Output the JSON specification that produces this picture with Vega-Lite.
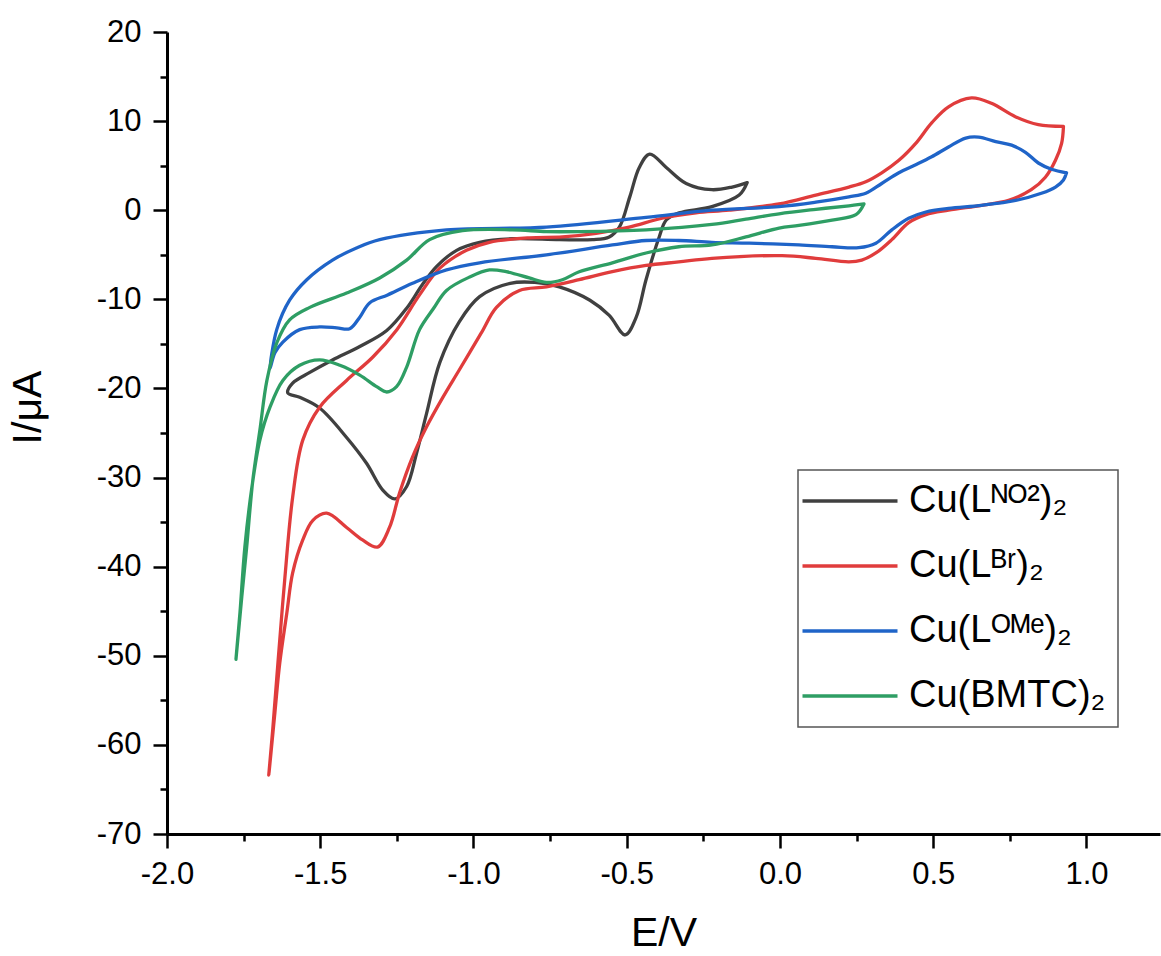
{
  "$schema": "https://vega.github.io/schema/vega-lite/v6.json",
  "width": 993,
  "height": 802,
  "autosize": {"type": "none"},
  "padding": {"left": 167, "top": 32, "right": 1, "bottom": 122},
  "background": "white",
  "config": {
    "view": {"stroke": null},
    "font": "Liberation Sans",
    "axis": {"labelFont": "Liberation Sans", "titleFont": "Liberation Sans", "titleFontWeight": "normal", "labelColor": "black", "titleColor": "black", "domainColor": "black", "tickColor": "black", "domainWidth": 3, "tickWidth": 2.5, "grid": false, "labelOverlap": false, "labelFlush": false}
  },
  "datasets": {
    "cv": [
      {"series": "NO2", "k": 1, "E": -0.107, "I": 3.1},
      {"series": "NO2", "k": 2, "E": -0.133, "I": 1.7},
      {"series": "NO2", "k": 3, "E": -0.222, "I": 0.4},
      {"series": "NO2", "k": 4, "E": -0.329, "I": -0.3},
      {"series": "NO2", "k": 5, "E": -0.371, "I": -1.1},
      {"series": "NO2", "k": 6, "E": -0.394, "I": -3.0},
      {"series": "NO2", "k": 7, "E": -0.437, "I": -7.8},
      {"series": "NO2", "k": 8, "E": -0.469, "I": -12.0},
      {"series": "NO2", "k": 9, "E": -0.505, "I": -14.0},
      {"series": "NO2", "k": 10, "E": -0.557, "I": -11.8},
      {"series": "NO2", "k": 11, "E": -0.62, "I": -10.1},
      {"series": "NO2", "k": 12, "E": -0.72, "I": -8.6},
      {"series": "NO2", "k": 13, "E": -0.8, "I": -8.1},
      {"series": "NO2", "k": 14, "E": -0.88, "I": -8.2},
      {"series": "NO2", "k": 15, "E": -0.98, "I": -9.7},
      {"series": "NO2", "k": 16, "E": -1.046, "I": -12.5},
      {"series": "NO2", "k": 17, "E": -1.11, "I": -17.1},
      {"series": "NO2", "k": 18, "E": -1.153, "I": -22.8},
      {"series": "NO2", "k": 19, "E": -1.186, "I": -27.3},
      {"series": "NO2", "k": 20, "E": -1.218, "I": -31.0},
      {"series": "NO2", "k": 21, "E": -1.257, "I": -32.4},
      {"series": "NO2", "k": 22, "E": -1.296, "I": -31.4},
      {"series": "NO2", "k": 23, "E": -1.349, "I": -28.4},
      {"series": "NO2", "k": 24, "E": -1.414, "I": -25.5},
      {"series": "NO2", "k": 25, "E": -1.502, "I": -22.2},
      {"series": "NO2", "k": 26, "E": -1.567, "I": -21.0},
      {"series": "NO2", "k": 27, "E": -1.606, "I": -20.5},
      {"series": "NO2", "k": 28, "E": -1.59, "I": -19.4},
      {"series": "NO2", "k": 29, "E": -1.534, "I": -18.2},
      {"series": "NO2", "k": 30, "E": -1.46, "I": -16.8},
      {"series": "NO2", "k": 31, "E": -1.371, "I": -15.3},
      {"series": "NO2", "k": 32, "E": -1.283, "I": -13.5},
      {"series": "NO2", "k": 33, "E": -1.218, "I": -11.0},
      {"series": "NO2", "k": 34, "E": -1.166, "I": -8.3},
      {"series": "NO2", "k": 35, "E": -1.12, "I": -6.3},
      {"series": "NO2", "k": 36, "E": -1.055, "I": -4.5},
      {"series": "NO2", "k": 37, "E": -0.98, "I": -3.6},
      {"series": "NO2", "k": 38, "E": -0.873, "I": -3.2},
      {"series": "NO2", "k": 39, "E": -0.72, "I": -3.3},
      {"series": "NO2", "k": 40, "E": -0.612, "I": -3.3},
      {"series": "NO2", "k": 41, "E": -0.557, "I": -3.0},
      {"series": "NO2", "k": 42, "E": -0.524, "I": -1.9},
      {"series": "NO2", "k": 43, "E": -0.49, "I": 1.5},
      {"series": "NO2", "k": 44, "E": -0.459, "I": 4.8},
      {"series": "NO2", "k": 45, "E": -0.425, "I": 6.3},
      {"series": "NO2", "k": 46, "E": -0.371, "I": 4.8},
      {"series": "NO2", "k": 47, "E": -0.306, "I": 3.0},
      {"series": "NO2", "k": 48, "E": -0.222, "I": 2.3},
      {"series": "NO2", "k": 49, "E": -0.156, "I": 2.6},
      {"series": "NO2", "k": 50, "E": -0.107, "I": 3.1},

      {"series": "Br", "k": 1, "E": 0.925, "I": 9.4},
      {"series": "Br", "k": 2, "E": 0.919, "I": 7.5},
      {"series": "Br", "k": 3, "E": 0.899, "I": 5.6},
      {"series": "Br", "k": 4, "E": 0.866, "I": 3.7},
      {"series": "Br", "k": 5, "E": 0.82, "I": 2.3},
      {"series": "Br", "k": 6, "E": 0.746, "I": 1.1},
      {"series": "Br", "k": 7, "E": 0.658, "I": 0.55},
      {"series": "Br", "k": 8, "E": 0.55, "I": 0.0},
      {"series": "Br", "k": 9, "E": 0.476, "I": -0.5},
      {"series": "Br", "k": 10, "E": 0.42, "I": -1.4},
      {"series": "Br", "k": 11, "E": 0.365, "I": -3.3},
      {"series": "Br", "k": 12, "E": 0.313, "I": -4.8},
      {"series": "Br", "k": 13, "E": 0.267, "I": -5.6},
      {"series": "Br", "k": 14, "E": 0.225, "I": -5.8},
      {"series": "Br", "k": 15, "E": 0.117, "I": -5.4},
      {"series": "Br", "k": 16, "E": 0.007, "I": -5.1},
      {"series": "Br", "k": 17, "E": -0.222, "I": -5.4},
      {"series": "Br", "k": 18, "E": -0.33, "I": -5.8},
      {"series": "Br", "k": 19, "E": -0.437, "I": -6.2},
      {"series": "Br", "k": 20, "E": -0.547, "I": -6.9},
      {"series": "Br", "k": 21, "E": -0.655, "I": -7.8},
      {"series": "Br", "k": 22, "E": -0.762, "I": -8.6},
      {"series": "Br", "k": 23, "E": -0.85, "I": -9.0},
      {"series": "Br", "k": 24, "E": -0.925, "I": -10.9},
      {"series": "Br", "k": 25, "E": -0.975, "I": -13.8},
      {"series": "Br", "k": 26, "E": -1.046, "I": -17.9},
      {"series": "Br", "k": 27, "E": -1.1, "I": -21.0},
      {"series": "Br", "k": 28, "E": -1.153, "I": -24.3},
      {"series": "Br", "k": 29, "E": -1.199, "I": -27.7},
      {"series": "Br", "k": 30, "E": -1.241, "I": -31.7},
      {"series": "Br", "k": 31, "E": -1.274, "I": -35.6},
      {"series": "Br", "k": 32, "E": -1.313, "I": -37.8},
      {"series": "Br", "k": 33, "E": -1.362, "I": -37.0},
      {"series": "Br", "k": 34, "E": -1.414, "I": -35.6},
      {"series": "Br", "k": 35, "E": -1.479, "I": -34.0},
      {"series": "Br", "k": 36, "E": -1.524, "I": -34.8},
      {"series": "Br", "k": 37, "E": -1.557, "I": -37.0},
      {"series": "Br", "k": 38, "E": -1.59, "I": -40.7},
      {"series": "Br", "k": 39, "E": -1.609, "I": -45.2},
      {"series": "Br", "k": 40, "E": -1.632, "I": -50.8},
      {"series": "Br", "k": 41, "E": -1.648, "I": -56.4},
      {"series": "Br", "k": 42, "E": -1.668, "I": -63.4},
      {"series": "Br", "k": 43, "E": -1.655, "I": -58.3},
      {"series": "Br", "k": 44, "E": -1.638, "I": -50.8},
      {"series": "Br", "k": 45, "E": -1.616, "I": -41.5},
      {"series": "Br", "k": 46, "E": -1.59, "I": -32.2},
      {"series": "Br", "k": 47, "E": -1.557, "I": -25.8},
      {"series": "Br", "k": 48, "E": -1.502, "I": -22.1},
      {"series": "Br", "k": 49, "E": -1.414, "I": -19.1},
      {"series": "Br", "k": 50, "E": -1.329, "I": -16.5},
      {"series": "Br", "k": 51, "E": -1.25, "I": -13.4},
      {"series": "Br", "k": 52, "E": -1.176, "I": -9.5},
      {"series": "Br", "k": 53, "E": -1.11, "I": -6.5},
      {"series": "Br", "k": 54, "E": -1.023, "I": -4.5},
      {"series": "Br", "k": 55, "E": -0.948, "I": -3.6},
      {"series": "Br", "k": 56, "E": -0.818, "I": -3.1},
      {"series": "Br", "k": 57, "E": -0.71, "I": -3.0},
      {"series": "Br", "k": 58, "E": -0.6, "I": -2.6},
      {"series": "Br", "k": 59, "E": -0.492, "I": -1.9},
      {"series": "Br", "k": 60, "E": -0.384, "I": -0.9},
      {"series": "Br", "k": 61, "E": -0.274, "I": -0.3},
      {"series": "Br", "k": 62, "E": -0.166, "I": 0.0},
      {"series": "Br", "k": 63, "E": -0.003, "I": 0.7},
      {"series": "Br", "k": 64, "E": 0.117, "I": 1.7},
      {"series": "Br", "k": 65, "E": 0.225, "I": 2.6},
      {"series": "Br", "k": 66, "E": 0.28, "I": 3.2},
      {"series": "Br", "k": 67, "E": 0.332, "I": 4.2},
      {"series": "Br", "k": 68, "E": 0.388, "I": 5.6},
      {"series": "Br", "k": 69, "E": 0.443, "I": 7.5},
      {"series": "Br", "k": 70, "E": 0.495, "I": 9.8},
      {"series": "Br", "k": 71, "E": 0.55, "I": 11.6},
      {"series": "Br", "k": 72, "E": 0.625, "I": 12.6},
      {"series": "Br", "k": 73, "E": 0.69, "I": 12.0},
      {"series": "Br", "k": 74, "E": 0.768, "I": 10.5},
      {"series": "Br", "k": 75, "E": 0.843, "I": 9.6},
      {"series": "Br", "k": 76, "E": 0.925, "I": 9.4},

      {"series": "OMe", "k": 1, "E": 0.935, "I": 4.2},
      {"series": "OMe", "k": 2, "E": 0.925, "I": 3.4},
      {"series": "OMe", "k": 3, "E": 0.899, "I": 2.6},
      {"series": "OMe", "k": 4, "E": 0.853, "I": 1.9},
      {"series": "OMe", "k": 5, "E": 0.769, "I": 1.1},
      {"series": "OMe", "k": 6, "E": 0.658, "I": 0.55},
      {"series": "OMe", "k": 7, "E": 0.55, "I": 0.2},
      {"series": "OMe", "k": 8, "E": 0.476, "I": -0.2},
      {"series": "OMe", "k": 9, "E": 0.42, "I": -0.9},
      {"series": "OMe", "k": 10, "E": 0.365, "I": -2.2},
      {"series": "OMe", "k": 11, "E": 0.313, "I": -3.7},
      {"series": "OMe", "k": 12, "E": 0.257, "I": -4.2},
      {"series": "OMe", "k": 13, "E": 0.17, "I": -4.1},
      {"series": "OMe", "k": 14, "E": 0.062, "I": -3.9},
      {"series": "OMe", "k": 15, "E": -0.1, "I": -3.7},
      {"series": "OMe", "k": 16, "E": -0.222, "I": -3.6},
      {"series": "OMe", "k": 17, "E": -0.33, "I": -3.4},
      {"series": "OMe", "k": 18, "E": -0.437, "I": -3.4},
      {"series": "OMe", "k": 19, "E": -0.547, "I": -3.9},
      {"series": "OMe", "k": 20, "E": -0.762, "I": -5.0},
      {"series": "OMe", "k": 21, "E": -0.98, "I": -5.9},
      {"series": "OMe", "k": 22, "E": -1.088, "I": -6.7},
      {"series": "OMe", "k": 23, "E": -1.199, "I": -8.2},
      {"series": "OMe", "k": 24, "E": -1.28, "I": -9.5},
      {"series": "OMe", "k": 25, "E": -1.339, "I": -10.4},
      {"series": "OMe", "k": 26, "E": -1.371, "I": -12.0},
      {"series": "OMe", "k": 27, "E": -1.404, "I": -13.3},
      {"series": "OMe", "k": 28, "E": -1.446, "I": -13.2},
      {"series": "OMe", "k": 29, "E": -1.502, "I": -13.1},
      {"series": "OMe", "k": 30, "E": -1.567, "I": -13.4},
      {"series": "OMe", "k": 31, "E": -1.622, "I": -14.8},
      {"series": "OMe", "k": 32, "E": -1.648, "I": -16.0},
      {"series": "OMe", "k": 33, "E": -1.664, "I": -17.8},
      {"series": "OMe", "k": 34, "E": -1.642, "I": -13.4},
      {"series": "OMe", "k": 35, "E": -1.6, "I": -10.1},
      {"series": "OMe", "k": 36, "E": -1.544, "I": -7.8},
      {"series": "OMe", "k": 37, "E": -1.46, "I": -5.6},
      {"series": "OMe", "k": 38, "E": -1.38, "I": -4.2},
      {"series": "OMe", "k": 39, "E": -1.306, "I": -3.3},
      {"series": "OMe", "k": 40, "E": -1.088, "I": -2.2},
      {"series": "OMe", "k": 41, "E": -0.762, "I": -1.9},
      {"series": "OMe", "k": 42, "E": -0.437, "I": -0.8},
      {"series": "OMe", "k": 43, "E": -0.222, "I": 0.0},
      {"series": "OMe", "k": 44, "E": -0.003, "I": 0.4},
      {"series": "OMe", "k": 45, "E": 0.117, "I": 0.9},
      {"series": "OMe", "k": 46, "E": 0.225, "I": 1.5},
      {"series": "OMe", "k": 47, "E": 0.28, "I": 1.9},
      {"series": "OMe", "k": 48, "E": 0.332, "I": 3.0},
      {"series": "OMe", "k": 49, "E": 0.388, "I": 4.2},
      {"series": "OMe", "k": 50, "E": 0.443, "I": 5.1},
      {"series": "OMe", "k": 51, "E": 0.495, "I": 6.0},
      {"series": "OMe", "k": 52, "E": 0.55, "I": 7.1},
      {"series": "OMe", "k": 53, "E": 0.606, "I": 8.1},
      {"series": "OMe", "k": 54, "E": 0.648, "I": 8.2},
      {"series": "OMe", "k": 55, "E": 0.704, "I": 7.7},
      {"series": "OMe", "k": 56, "E": 0.756, "I": 7.3},
      {"series": "OMe", "k": 57, "E": 0.801, "I": 6.5},
      {"series": "OMe", "k": 58, "E": 0.843, "I": 5.3},
      {"series": "OMe", "k": 59, "E": 0.886, "I": 4.6},
      {"series": "OMe", "k": 60, "E": 0.935, "I": 4.2},

      {"series": "BMTC", "k": 1, "E": 0.274, "I": 0.7},
      {"series": "BMTC", "k": 2, "E": 0.248, "I": -0.5},
      {"series": "BMTC", "k": 3, "E": 0.17, "I": -1.1},
      {"series": "BMTC", "k": 4, "E": 0.062, "I": -1.7},
      {"series": "BMTC", "k": 5, "E": -0.003, "I": -2.0},
      {"series": "BMTC", "k": 6, "E": -0.111, "I": -3.0},
      {"series": "BMTC", "k": 7, "E": -0.222, "I": -3.9},
      {"series": "BMTC", "k": 8, "E": -0.33, "I": -4.1},
      {"series": "BMTC", "k": 9, "E": -0.437, "I": -4.8},
      {"series": "BMTC", "k": 10, "E": -0.547, "I": -5.9},
      {"series": "BMTC", "k": 11, "E": -0.655, "I": -6.9},
      {"series": "BMTC", "k": 12, "E": -0.71, "I": -7.8},
      {"series": "BMTC", "k": 13, "E": -0.762, "I": -8.1},
      {"series": "BMTC", "k": 14, "E": -0.818, "I": -7.6},
      {"series": "BMTC", "k": 15, "E": -0.893, "I": -6.9},
      {"series": "BMTC", "k": 16, "E": -0.948, "I": -6.7},
      {"series": "BMTC", "k": 17, "E": -1.013, "I": -7.5},
      {"series": "BMTC", "k": 18, "E": -1.088, "I": -9.0},
      {"series": "BMTC", "k": 19, "E": -1.13, "I": -11.0},
      {"series": "BMTC", "k": 20, "E": -1.176, "I": -13.4},
      {"series": "BMTC", "k": 21, "E": -1.218, "I": -17.6},
      {"series": "BMTC", "k": 22, "E": -1.251, "I": -19.8},
      {"series": "BMTC", "k": 23, "E": -1.283, "I": -20.4},
      {"series": "BMTC", "k": 24, "E": -1.316, "I": -19.8},
      {"series": "BMTC", "k": 25, "E": -1.371, "I": -18.5},
      {"series": "BMTC", "k": 26, "E": -1.436, "I": -17.4},
      {"series": "BMTC", "k": 27, "E": -1.502, "I": -16.8},
      {"series": "BMTC", "k": 28, "E": -1.567, "I": -17.4},
      {"series": "BMTC", "k": 29, "E": -1.622, "I": -19.1},
      {"series": "BMTC", "k": 30, "E": -1.664, "I": -22.1},
      {"series": "BMTC", "k": 31, "E": -1.697, "I": -25.8},
      {"series": "BMTC", "k": 32, "E": -1.723, "I": -31.1},
      {"series": "BMTC", "k": 33, "E": -1.746, "I": -37.8},
      {"series": "BMTC", "k": 34, "E": -1.762, "I": -45.2},
      {"series": "BMTC", "k": 35, "E": -1.775, "I": -50.4},
      {"series": "BMTC", "k": 36, "E": -1.756, "I": -43.4},
      {"series": "BMTC", "k": 37, "E": -1.74, "I": -37.8},
      {"series": "BMTC", "k": 38, "E": -1.72, "I": -30.3},
      {"series": "BMTC", "k": 39, "E": -1.697, "I": -24.7},
      {"series": "BMTC", "k": 40, "E": -1.674, "I": -19.1},
      {"series": "BMTC", "k": 41, "E": -1.642, "I": -14.9},
      {"series": "BMTC", "k": 42, "E": -1.6, "I": -12.3},
      {"series": "BMTC", "k": 43, "E": -1.534, "I": -10.9},
      {"series": "BMTC", "k": 44, "E": -1.414, "I": -9.3},
      {"series": "BMTC", "k": 45, "E": -1.306, "I": -7.6},
      {"series": "BMTC", "k": 46, "E": -1.218, "I": -5.6},
      {"series": "BMTC", "k": 47, "E": -1.143, "I": -3.3},
      {"series": "BMTC", "k": 48, "E": -1.036, "I": -2.3},
      {"series": "BMTC", "k": 49, "E": -0.873, "I": -2.2},
      {"series": "BMTC", "k": 50, "E": -0.762, "I": -2.4},
      {"series": "BMTC", "k": 51, "E": -0.655, "I": -2.4},
      {"series": "BMTC", "k": 52, "E": -0.437, "I": -2.2},
      {"series": "BMTC", "k": 53, "E": -0.222, "I": -1.6},
      {"series": "BMTC", "k": 54, "E": -0.111, "I": -1.0},
      {"series": "BMTC", "k": 55, "E": -0.003, "I": -0.4},
      {"series": "BMTC", "k": 56, "E": 0.117, "I": 0.1},
      {"series": "BMTC", "k": 57, "E": 0.225, "I": 0.5},
      {"series": "BMTC", "k": 58, "E": 0.274, "I": 0.7}
    ]
  },
  "data": {"name": "cv"},
  "mark": {"type": "line", "interpolate": "catmull-rom", "strokeWidth": 3.3, "strokeJoin": "round", "strokeCap": "round"},
  "encoding": {
    "x": {
      "field": "E", "type": "quantitative",
      "scale": {"domain": [-2, 1.24], "nice": false, "zero": false},
      "axis": {
        "title": "E/V", "titleFontSize": 41, "titlePadding": 24,
        "values": [-2, -1.75, -1.5, -1.25, -1, -0.75, -0.5, -0.25, 0, 0.25, 0.5, 0.75, 1.0],
        "labelExpr": "abs(datum.value*2 - round(datum.value*2)) < 0.001 ? replace(format(datum.value, '.1f'), '−', '-') : ''",
        "labelFontSize": 31, "labelPadding": 11,
        "tickSize": {"condition": {"test": "abs(datum.value*2 - round(datum.value*2)) < 0.001", "value": 14}, "value": 7}
      }
    },
    "y": {
      "field": "I", "type": "quantitative",
      "scale": {"domain": [-70, 20], "nice": false, "zero": false},
      "axis": {
        "title": "I/μA", "titleFontSize": 41, "titleX": -139, "titleY": 375, "titleBaseline": "middle",
        "values": [-70, -65, -60, -55, -50, -45, -40, -35, -30, -25, -20, -15, -10, -5, 0, 5, 10, 15, 20],
        "labelExpr": "datum.value % 10 === 0 ? replace(datum.label, '−', '-') : ''",
        "labelFontSize": 31, "labelPadding": 12,
        "tickSize": {"condition": {"test": "datum.value % 10 === 0", "value": 14}, "value": 7}
      }
    },
    "color": {
      "field": "series", "type": "nominal",
      "scale": {"domain": ["NO2", "Br", "OMe", "BMTC"], "range": ["#404040", "#e03c3c", "#1f64c8", "#2e9e64"]},
      "legend": {
        "title": null, "orient": "none", "legendX": 631, "legendY": 438,
        "labelExpr": "datum.value === 'NO2' ? 'Cu(Lᴺᴼ²)₂' : datum.value === 'Br' ? 'Cu(Lᴮʳ)₂' : datum.value === 'OMe' ? 'Cu(Lᴼᴹᵉ)₂' : 'Cu(BMTC)₂'",
        "labelFont": "Liberation Sans", "labelFontSize": 38, "labelColor": "black", "labelLimit": 400,
        "symbolType": "M-5,0H5", "symbolSize": 361, "symbolStrokeWidth": 3.5, "symbolOffset": 21,
        "labelOffset": 40, "rowPadding": 27, "padding": 12,
        "strokeColor": "#555555", "fillColor": "white",
        "encode": {"legend": {"update": {"strokeWidth": {"value": 1.5}}}}
      }
    },
    "order": {"field": "k", "type": "quantitative"}
  }
}
